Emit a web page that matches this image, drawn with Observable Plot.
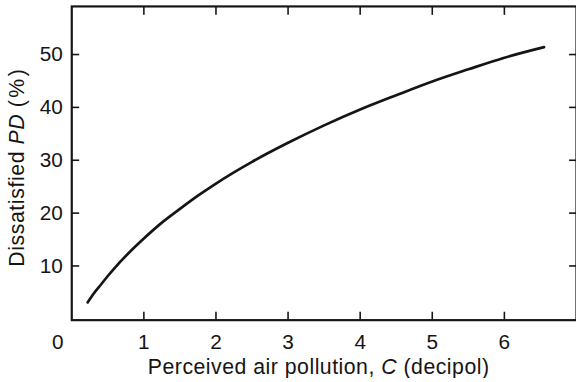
<!DOCTYPE html>
<html><head><meta charset="utf-8">
<script src="https://cdn.jsdelivr.net/npm/d3@7"></script>
<script src="https://cdn.jsdelivr.net/npm/@observablehq/plot@0.6"></script>
<style>
html,body{margin:0;padding:0;background:#fff;overflow:hidden;width:576px;height:382px}
#chart svg{display:block}
</style></head><body><div id="chart"></div>
<script>
// Perceived air pollution C (decipol)
const pollution = [0.22, 0.3, 0.4, 0.5, 0.6, 0.8, 1.0, 1.25, 1.5, 1.75, 2.0, 2.5, 3.0, 3.5, 4.0, 4.5, 5.0, 5.5, 6.0, 6.55];
// Dissatisfied PD (%)
const dissatisfied = [3.1, 4.7, 6.4, 8.1, 9.7, 12.6, 15.2, 18.2, 20.8, 23.3, 25.6, 29.7, 33.3, 36.6, 39.6, 42.3, 44.9, 47.2, 49.4, 51.4];
const xTicks = [1, 2, 3, 4, 5, 6];
const yTicks = [10, 20, 30, 40, 50];
const originTick = [0];
const xLabelParts = [["Perceived air pollution, ", false], ["C", true], [" (decipol)", false]];
const yLabelParts = [["Dissatisfied ", false], ["PD", true], [" ", false], ["(%)", false]];

const data = pollution.map((c, i) => ({c, pd: dissatisfied[i]}));
const W = 582, H = 382, mL = 72, mR = 0, mT = 6, mB = 59;
const ink = "#151515";
const font = "'Liberation Sans', Arial, Helvetica, sans-serif";

const plot = Plot.plot({
  width: W, height: H,
  marginLeft: mL, marginRight: mR, marginTop: mT, marginBottom: mB,
  style: {fontFamily: font, fontSize: "21px", color: ink, background: "#fff"},
  x: {domain: [0, 7]},
  y: {domain: [-0.25, 59.1]},
  marks: [
    Plot.frame({stroke: ink, strokeWidth: 2.2}),
    Plot.axisX(xTicks, {anchor: "bottom", tickSize: -8, strokeWidth: 1.6, text: null, label: null}),
    Plot.axisX(xTicks, {anchor: "bottom", tickSize: 0, tickPadding: 14, label: null, fontSize: 21}),
    Plot.axisX(originTick, {anchor: "bottom", tickSize: 0, tickPadding: 14, label: null, fontSize: 21, dx: -14}),
    Plot.axisX(xTicks, {anchor: "top", tickSize: -8, strokeWidth: 1.6, text: null, label: null}),
    Plot.axisY(yTicks, {anchor: "left", tickSize: -8, strokeWidth: 1.6, text: null, label: null}),
    Plot.axisY(yTicks, {anchor: "left", tickSize: 0, tickPadding: 9, label: null, fontSize: 21}),
    Plot.axisY(yTicks, {anchor: "right", tickSize: -8, strokeWidth: 1.6, text: null, label: null}),
    Plot.line(data, {x: "c", y: "pd", stroke: ink, strokeWidth: 2.7, curve: "monotone-x"})
  ]
});

const svg = d3.select(plot);
const addLabel = (parts, transform, spacing) => {
  const t = svg.append("text")
    .attr("text-anchor", "middle")
    .attr("font-family", font)
    .attr("font-size", 21.5)
    .attr("letter-spacing", spacing)
    .attr("fill", ink)
    .attr("transform", transform);
  parts.forEach(([s, it]) => t.append("tspan").attr("font-style", it ? "italic" : "normal").text(s));
  return t;
};
addLabel(xLabelParts, "translate(322,378)", "0.5px");
const yl = addLabel(yLabelParts, `translate(24,${(mT + H - mB) / 2 + 4}) rotate(-90)`, "0.6px");
yl.select("tspan:last-child").attr("letter-spacing", "2.5px");

document.getElementById("chart").appendChild(plot);
</script></body></html>
